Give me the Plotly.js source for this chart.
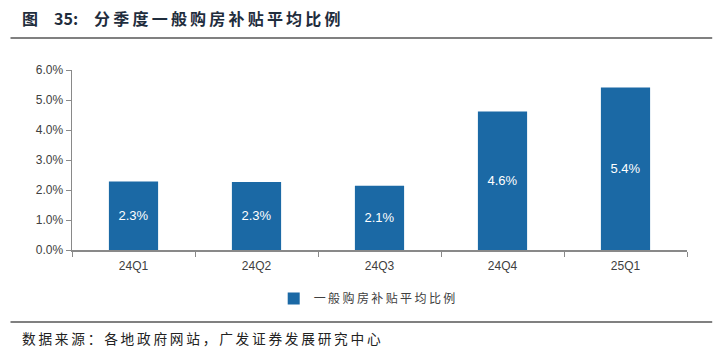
<!DOCTYPE html>
<html><head><meta charset="utf-8">
<script src="https://cdn.plot.ly/plotly-3.0.1.min.js"></script>
<style>body{margin:0;padding:0;background:#fff}#c{width:720px;height:362px}</style>
</head><body><div id="c"></div>
<script>
const categories = ['24Q1','24Q2','24Q3','24Q4','25Q1'];
const values = [2.28, 2.27, 2.14, 4.62, 5.42];
const seriesName = '一般购房补贴平均比例';
const yTickVals = [0,1,2,3,4,5,6];
const yTickText = ['0.0%','1.0%','2.0%','3.0%','4.0%','5.0%','6.0%'];
const titleHead = '图\u2002\u200235:';
const titleBody = '分季度一般购房补贴平均比例';
const sourceText = '数据来源：各地政府网站，广发证券发展研究中心';

const sp = s => s.split('').join('\u2009');
const cjk = '"Noto Sans CJK SC", sans-serif';
const trace = {
  type:'bar', x:categories, y:values, name:sp(seriesName),
  marker:{color:'#1b69a5', line:{color:'#1b69a5', width:0}},
  width:0.4,
  text:values.map(v=>v.toFixed(1)+'%'), textposition:'inside', insidetextanchor:'middle',
  textfont:{family:'Liberation Sans, Arial', size:13, color:'#ffffff'},
  hoverinfo:'none', showlegend:true
};
const layout = {
  width:720, height:362, margin:{l:72, r:33, t:70, b:112},
  paper_bgcolor:'#fff', plot_bgcolor:'#fff',
  bargap:0.6,
  xaxis:{type:'category', showline:true, linecolor:'#898989', linewidth:1.5,
    ticks:'outside', tickson:'boundaries', ticklen:5, tickcolor:'#898989', ticklabelstandoff:4,
    tickfont:{family:'Liberation Sans, Arial', size:12, color:'#404040'}, showgrid:false, fixedrange:true},
  yaxis:{range:[0,6], tickvals:yTickVals, ticktext:yTickText, showline:true, linecolor:'#898989', linewidth:1.5,
    ticks:'outside', ticklen:5, tickcolor:'#898989', showgrid:false, zeroline:false,
    tickfont:{family:'Liberation Sans, Arial', size:12, color:'#404040'}},
  showlegend:true,
  legend:{orientation:'h', x:0.48, xanchor:'center', y:-0.27, yanchor:'middle',
    font:{family:cjk, size:12, color:'#404040'}, itemwidth:20},
  annotations:[
    {xref:'paper', yref:'paper', x:-0.085, y:1.29, xanchor:'left', yanchor:'middle', showarrow:false,
     text:'<b>'+titleHead+'\u2002\u2002'+sp(titleBody)+'</b>', font:{family:cjk, size:16, color:'#1f2d3d'}},
    {xref:'paper', yref:'paper', x:-0.085, y:-0.49, xanchor:'left', yanchor:'middle', showarrow:false,
     text:sp(sourceText), font:{family:cjk, size:13.7, color:'#222'}}
  ],
  shapes:[
    {type:'line', xref:'paper', yref:'paper', x0:-0.1, x1:1.041, y0:1.178, y1:1.178, line:{color:'#808080', width:2}},
    {type:'line', xref:'paper', yref:'paper', x0:-0.1, x1:1.041, y0:-0.40, y1:-0.40, line:{color:'#808080', width:2}}
  ]
};
Plotly.newPlot('c',[trace],layout,{displayModeBar:false, staticPlot:true});
</script></body></html>
